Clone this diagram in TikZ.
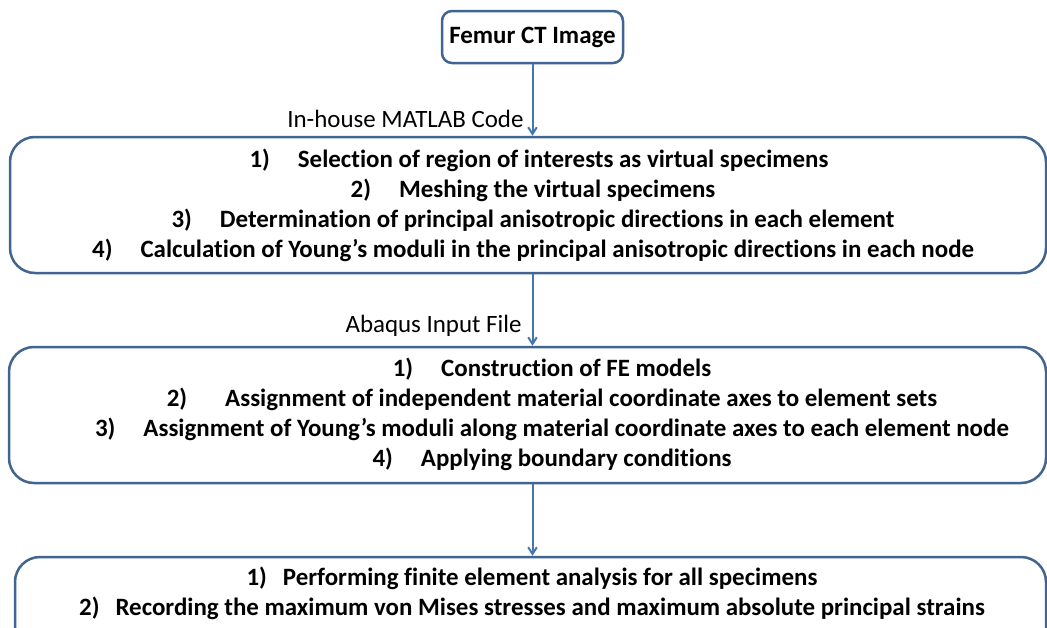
\documentclass[tikz,border=0pt]{standalone}
\usepackage{fontspec}
\setmainfont{Carlito}[Ligatures={NoCommon}]
\usetikzlibrary{arrows.meta}
\newlength\px
\setlength\px{0.75pt}
\definecolor{boxline}{RGB}{65,100,145}
\definecolor{arrowline}{RGB}{70,118,176}
\tikzset{
  stepbox/.style={draw=boxline, line width=2.5\px, rounded corners=25\px, fill=white},
  itemtext/.style={font=\bfseries\fontsize{18.7}{22.5}\selectfont, align=center, inner sep=0pt},
  lbl/.style={font=\fontsize{18.7}{22}\selectfont, inner sep=0pt},
  flow/.style={draw=arrowline, line width=2\px, -{Straight Barb[length=5pt,width=6.5pt]}},
}

\begin{document}
\begin{tikzpicture}[x=0.75pt,y=0.75pt,yscale=-1,xscale=1]
\useasboundingbox (0,0) rectangle (1047,628);

% Boxes
\node[stepbox, rounded corners=10\px, minimum width=181\px, minimum height=52\px, font=\bfseries\fontsize{18.7}{22}\selectfont] (femur) at (532.5,37) {Femur CT Image};
\node[stepbox, minimum width=1036\px, minimum height=136\px] (matlab) at (528,205) {};
\node[stepbox, minimum width=1037\px, minimum height=136\px] (abaqus) at (527.5,415) {};
\node[stepbox, minimum width=1031\px, minimum height=103\px] (fea) at (530.5,608.5) {};

% Box texts
\node[itemtext] (matlab-txt) at (533,205) {\hspace{12\px}1)\hspace{28\px}Selection of region of interests as virtual specimens\\
2)\hspace{28\px}Meshing the virtual specimens\\
3)\hspace{28\px}Determination of principal anisotropic directions in each element\\
4)\hspace{28\px}Calculation of Young’s moduli in the principal anisotropic directions in each node};
\node[itemtext] (abaqus-txt) at (552,414) {1)\hspace{28\px}Construction of FE models\\
2)\hspace{38\px}Assignment of independent material coordinate axes to element sets\\
3)\hspace{28\px}Assignment of Young’s moduli along material coordinate axes to each element node\\
4)\hspace{28\px}Applying boundary conditions};
\node[itemtext] (fea-txt) at (532,593) {1)\hspace{16\px}Performing finite element analysis for all specimens\\
2)\hspace{16\px}Recording the maximum von Mises stresses and maximum absolute principal strains};

% Connectors
\draw[flow] (femur.south) -- (femur.south |- matlab.north) node[lbl, pos=0.76, anchor=east, xshift=-6pt] {In-house MATLAB Code};
\draw[flow] (matlab.south -| femur.south) -- (abaqus.north -| femur.south) node[lbl, pos=0.72, anchor=east, xshift=-7.5pt] {Abaqus Input File};
\draw[flow] (abaqus.south -| femur.south) -- (fea.north -| femur.south);

\end{tikzpicture}
\end{document}
